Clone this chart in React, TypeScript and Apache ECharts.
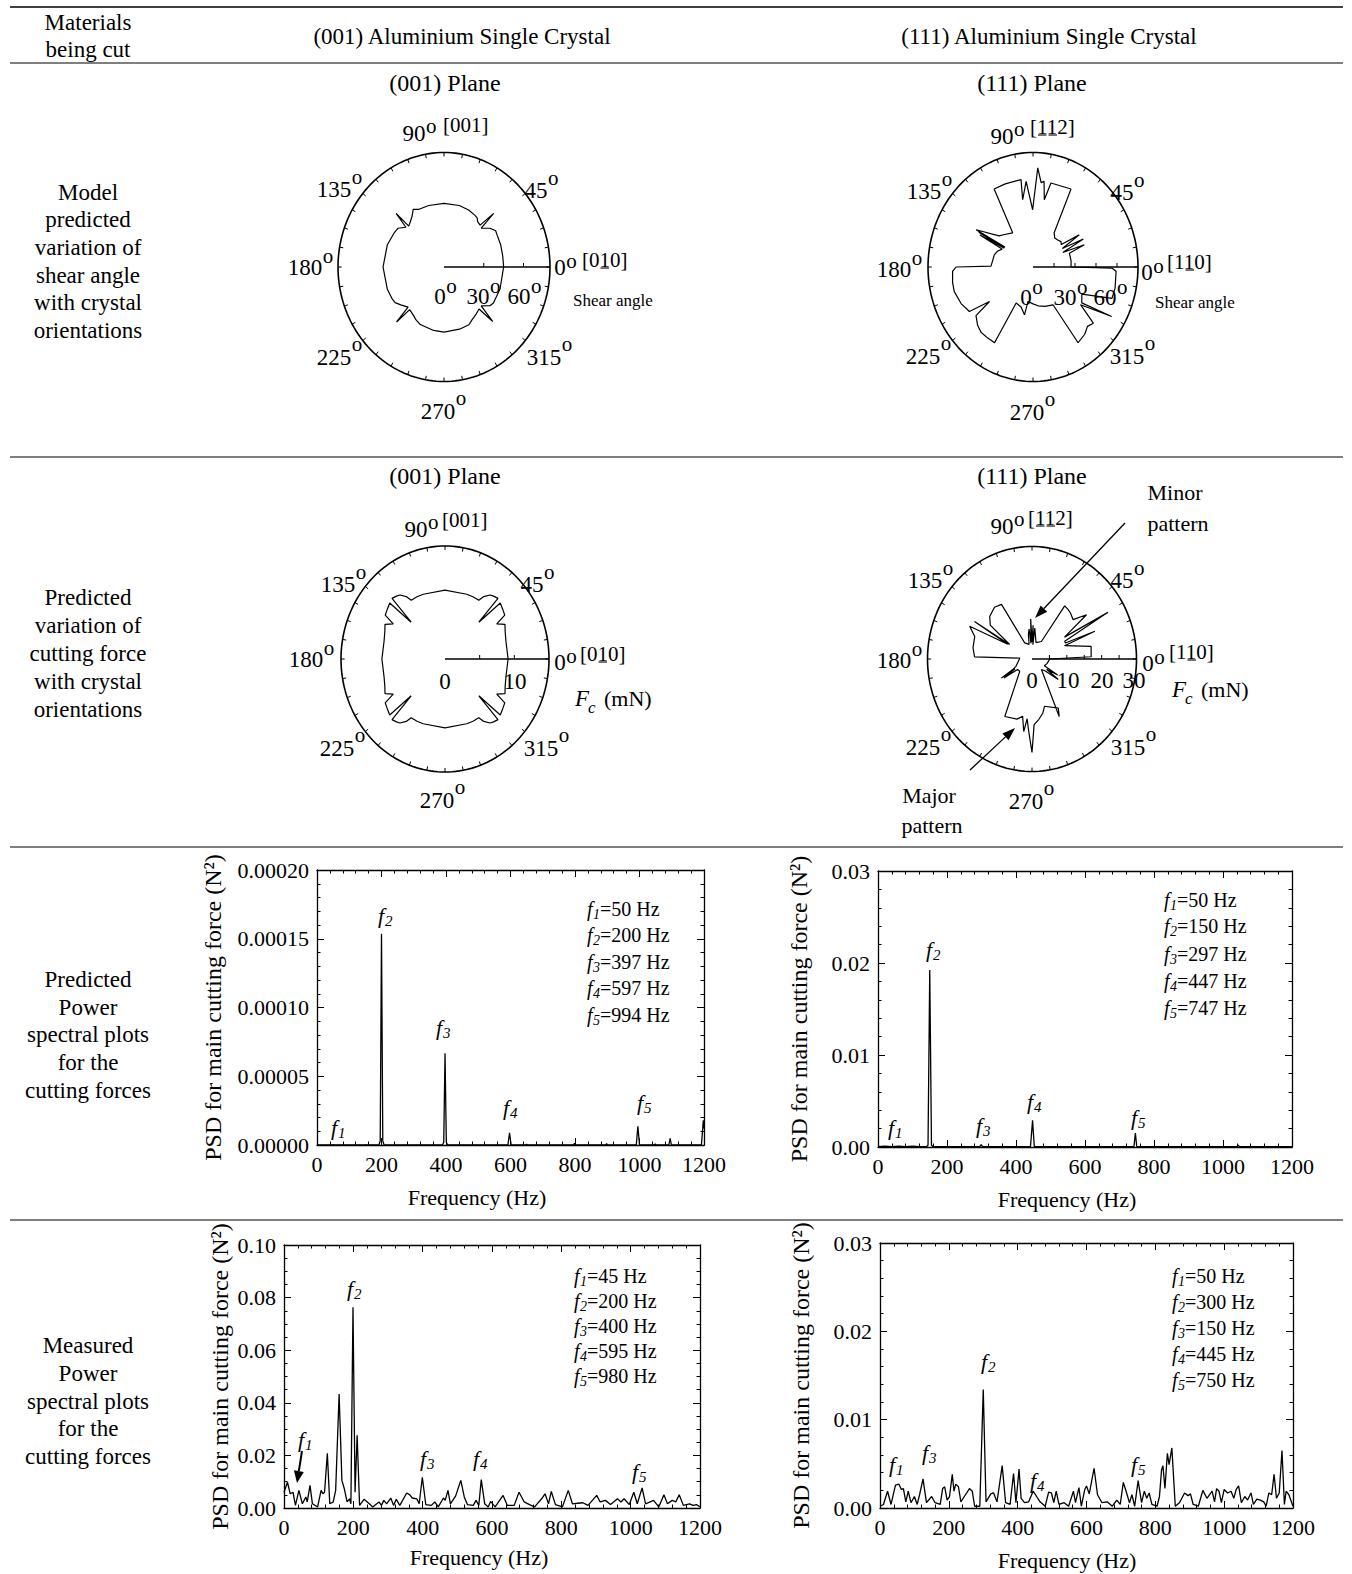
import React, { useEffect, useRef } from "react";
import * as echarts from "echarts";

const FONT = "'Liberation Serif','Times New Roman',Times,serif";

// ---------- Polar data: [angle (deg), radius] ----------
const shear001 = [
  [0, 45], [10, 45], [20, 45.5], [30, 46], [33, 46.5], [38, 44], [44, 39], [45, 53], [47, 40], [51, 40.5], [54, 42.5], [57, 43],
  [65, 44], [75, 44.5], [90, 44.5], [105, 44.5], [115, 44.5], [120, 46.5], [124, 43], [129, 40.5], [133, 39], [134, 52], [136, 40],
  [142, 44], [147, 44.5], [160, 45.5], [180, 46], [200, 45.5], [210, 45], [214, 44.5], [219, 42], [226, 39], [227, 52.5], [229, 39.5],
  [236, 41], [240, 42.5], [246, 44], [260, 45], [270, 45.5], [285, 45], [295, 44.5], [300, 42.5], [306, 41], [312, 39.5], [314, 53],
  [316, 39], [322, 44], [326, 45], [340, 45], [360, 45],
];

const shear111 = [
  [0, 32.6], [8, 33], [19, 33], [21.7, 47.3], [24, 28], [27, 48.4], [30, 29], [32.5, 47], [36, 30], [39.8, 31.2], [45, 30],
  [50.8, 29.5], [56, 32.3], [62, 69.4], [70, 68], [76.9, 67.8], [79.6, 53.8], [82, 68], [84, 66.7], [87, 78], [90.4, 45],
  [95, 67.6], [99.5, 53.6], [98.5, 69.5], [110, 69.5], [118.5, 69.8], [123, 32], [133.7, 35.3], [140, 38], [149, 56.9], [147, 28.7],
  [149.5, 54], [149, 28.7], [151, 52], [152, 30], [158, 33], [164, 34.5], [172, 35], [179, 36], [180, 66], [182.8, 69], [190, 70],
  [196, 70.2], [205, 68], [212.7, 64.8], [216, 46.1], [218, 62], [224, 66], [229, 67.9], [235, 68], [241, 68], [243, 31.8], [252, 33],
  [259, 38.3], [261, 27.4], [270, 29], [278, 30.8], [288, 32.6], [300, 34.3], [303, 71], [310, 69], [315, 66], [319.5, 68], [324, 50.4],
  [330, 77.9], [326, 50.4], [333, 47], [340, 72], [346.7, 72.3], [357.3, 71.3], [359.3, 67.5], [360, 32.6],
];

const force001 = [
  [0, 9.1], [15, 9.1], [22.6, 9.4], [28, 9.8], [32, 8.8], [34, 10.4], [38, 10.6], [43, 10.9], [45, 6.9], [46.5, 11.1], [50, 10.9],
  [52.6, 10.7], [56, 10], [58, 9.2], [64, 9.2], [70, 9.15], [90, 9.15], [110, 9.15], [116, 9.2], [122, 9.2], [124, 10], [127.4, 10.7],
  [130, 10.9], [133.5, 11.1], [135, 6.9], [137, 10.9], [142, 10.6], [146, 10.4], [148, 8.8], [152, 9.8], [157.4, 9.4], [165, 9.1],
  [180, 9.1], [195, 9.1], [202.6, 9.4], [208, 9.8], [212, 8.8], [214, 10.4], [218, 10.6], [223, 10.9], [225, 6.9], [226.5, 11.1],
  [230, 10.9], [232.6, 10.7], [236, 10], [238, 9.2], [244, 9.2], [250, 9.15], [270, 9.15], [290, 9.15], [296, 9.2], [302, 9.2],
  [304, 10], [307.4, 10.7], [310, 10.9], [313.5, 11.1], [315, 6.9], [317, 10.9], [322, 10.6], [326, 10.4], [328, 8.8], [332, 9.8],
  [337.4, 9.4], [345, 9.1], [360, 9.1],
];

const force111 = [
  [0, 5], [2, 17], [11.2, 17.3], [20.8, 10], [22.3, 19.5], [24, 10.5], [26.6, 10.5], [29.7, 25.1], [32, 11], [37, 19.6], [41.6, 15.8],
  [48, 16.5], [52, 16.8], [56.5, 17], [60, 5.4], [75, 4.5], [84.5, 8.3], [86, 3.8], [88, 9], [90, 4.5], [92, 10.7], [94, 4.2], [96, 8],
  [99, 6.6], [102, 4], [116, 4.8], [121, 17], [128, 17.5], [137, 16.6], [143, 15], [149, 7.5], [148.8, 19.3], [150.5, 8], [154, 19.9],
  [160, 17.5], [170, 17.2], [178, 16.5], [176, 3.5], [190, 4], [203, 5], [207, 6.2], [210, 10.2], [208, 5.5], [212, 9.5], [214, 5],
  [223, 4.8], [243, 17.2], [255, 16.6], [260, 15.5], [263, 19.5], [265, 16], [267, 19], [270, 24.9], [272, 17.5], [277, 16.2],
  [282, 14.8], [286, 13.1], [300, 15.1], [297, 17.2], [314, 3.9], [320, 5], [324, 9.3], [327, 5], [330, 8.5], [333, 4], [345, 4.5],
  [358, 5], [360, 5],
];

// ---------- PSD data: [frequency (Hz), PSD (N^2)] ----------
const psdPred001 = [
  [0, 0], [48, 0], [50, 0.0000004], [52, 0], [150, 0], [152, 0.0000003], [154, 0], [192, 0], [196, 0.000003], [200, 0.0001537],
  [204, 0.000003], [208, 0], [389, 0], [393, 0.000002], [397, 0.0000667], [401, 0.000002], [405, 0], [592, 0], [597, 0.0000088],
  [602, 0], [647, 0], [650, 0.0000006], [653, 0], [795, 0], [798, 0.0000012], [801, 0], [895, 0], [898, 0.0000009], [901, 0],
  [990, 0], [995, 0.0000136], [1000, 0], [1046, 0], [1049, 0.0000008], [1052, 0], [1091, 0], [1095, 0.0000049], [1099, 0],
  [1192, 0], [1196, 0.000012], [1198, 0.000018], [1200, 0.000012],
];

const psdPred111 = [
  [0, 0.00005], [20, 0.0001], [40, 0.00005], [60, 0.0001], [80, 0.00003], [100, 0.0001], [120, 0.00005], [140, 0.00003],
  [145, 0.0002], [150, 0.01923], [155, 0.0002], [160, 0.00003], [200, 0.00005], [250, 0.00003], [295, 0.00003], [299, 0.00025],
  [303, 0.00003], [350, 0.00005], [400, 0.00003], [442, 0.00005], [448, 0.00289], [453, 0.00005], [500, 0.00005], [600, 0.00003],
  [700, 0.00005], [742, 0.00005], [746, 0.00152], [750, 0.00005], [800, 0.00003], [900, 0.00005], [1000, 0.00003], [1040, 0.00003],
  [1044, 0.0002], [1048, 0.00003], [1200, 0.00003],
];

const psdMeas001 = [
  [0, 0.006], [10, 0.0098], [18, 0.0054], [26, 0.006], [33, 0.001], [43, 0.0067], [53, 0.0016], [63, 0.0042], [67, 0.0023],
  [75, 0.0086], [82, 0.0016], [97, 0.0004], [107, 0.0067], [112, 0.0054], [117, 0.006], [125, 0.0208], [132, 0.0016], [142, 0.0023],
  [149, 0.0067], [159, 0.0433], [167, 0.0105], [174, 0.0073], [182, 0.0023], [189, 0.0035], [193, 0.0016], [199, 0.0763], [205, 0.006],
  [211, 0.0277], [218, 0.001], [231, 0.0033], [246, 0.0016], [256, 0.0004], [274, 0.0023], [281, 0.001], [288, 0.0029], [296, 0.0016],
  [308, 0.0038], [316, 0.001], [324, 0.0033], [334, 0.001], [354, 0.0057], [363, 0.005], [370, 0.0038], [383, 0.0035], [390, 0.0016],
  [399, 0.0117], [409, 0.0013], [425, 0.001], [435, 0.0023], [445, 0.0004], [460, 0.0038], [465, 0.0029], [473, 0.0067], [480, 0.0016],
  [495, 0.0045], [510, 0.0105], [520, 0.0042], [529, 0.0013], [546, 0.001], [554, 0.0029], [562, 0.001], [569, 0.0108], [579, 0.0016],
  [589, 0.0004], [596, 0.0025], [609, 0.0004], [632, 0.0048], [644, 0.001], [664, 0.001], [678, 0.006], [693, 0.0023], [708, 0.0013],
  [723, 0.0004], [743, 0.0035], [753, 0.0054], [763, 0.0016], [771, 0.0063], [783, 0.0013], [803, 0.0004], [820, 0.0067], [832, 0.0016],
  [847, 0.0018], [862, 0.002], [877, 0.001], [902, 0.0048], [912, 0.0023], [927, 0.0029], [942, 0.0013], [962, 0.0035], [972, 0.0023],
  [981, 0.0035], [996, 0.0013], [1009, 0.006], [1019, 0.0016], [1033, 0.0076], [1043, 0.0016], [1066, 0.0029], [1081, 0.0004],
  [1096, 0.005], [1106, 0.0016], [1120, 0.0029], [1130, 0.0023], [1140, 0.005], [1152, 0.001], [1170, 0.0016], [1180, 0.001],
  [1190, 0.0013], [1200, 0.0004],
];

const psdMeas111 = [
  [0, 0.0002], [10, 0.0004], [22, 0.0019], [32, 0.0004], [45, 0.0026], [55, 0.0027], [62, 0.0021], [68, 0.0022], [75, 0.0007],
  [82, 0.0019], [90, 0.0006], [100, 0.0013], [108, 0.0004], [115, 0.0015], [125, 0.0033], [135, 0.0006], [150, 0.0013], [160, 0.0006],
  [175, 0.0004], [182, 0.0022], [188, 0.0024], [195, 0.0009], [202, 0.0013], [210, 0.0038], [215, 0.0019], [220, 0.0027], [228, 0.0024],
  [235, 0.0007], [245, 0.0013], [260, 0.0022], [268, 0.0019], [275, 0.0002], [290, 0.0002], [300, 0.0134], [308, 0.0007], [322, 0.0016],
  [330, 0.0017], [340, 0.0007], [355, 0.0048], [365, 0.0006], [378, 0.0004], [388, 0.0039], [395, 0.0006], [404, 0.0044], [410, 0.0011],
  [420, 0.0006], [432, 0.0007], [445, 0.0019], [455, 0.0013], [465, 0.0007], [480, 0.0002], [490, 0.0018], [498, 0.0017], [505, 0.0006],
  [512, 0.0019], [520, 0.0004], [535, 0.0006], [548, 0.0002], [562, 0.0019], [568, 0.0006], [578, 0.0023], [585, 0.0002], [595, 0.0021],
  [600, 0.0025], [608, 0.0016], [622, 0.0045], [632, 0.0015], [645, 0.0006], [660, 0.0007], [675, 0.0002], [688, 0.0009], [698, 0.0004],
  [707, 0.0029], [715, 0.0019], [725, 0.0006], [732, 0.0015], [740, 0.0002], [750, 0.0031], [760, 0.0006], [768, 0.0019], [775, 0.0011],
  [782, 0.0017], [790, 0.0004], [805, 0.0002], [812, 0.0013], [818, 0.0043], [822, 0.0048], [828, 0.0022], [835, 0.0062], [840, 0.0049],
  [848, 0.0068], [858, 0.0002], [870, 0.0006], [885, 0.0017], [895, 0.0014], [902, 0.0016], [910, 0.0004], [925, 0.0002], [938, 0.002],
  [950, 0.0011], [965, 0.0019], [972, 0.0007], [978, 0.0022], [985, 0.0019], [992, 0.0006], [1000, 0.0021], [1010, 0.0017], [1020, 0.0019],
  [1028, 0.0011], [1035, 0.0021], [1042, 0.0025], [1050, 0.0006], [1060, 0.0013], [1068, 0.0009], [1078, 0.0017], [1085, 0.0004],
  [1095, 0.001], [1105, 0.0009], [1115, 0.0007], [1122, 0.0002], [1130, 0.0017], [1138, 0.0015], [1145, 0.0038], [1152, 0.0011],
  [1160, 0.0017], [1168, 0.0065], [1175, 0.0004], [1180, 0.0019], [1188, 0.0015], [1200, 0.0002],
];

// ---------- Text content ----------
const headerLeft = ["Materials", "being cut"];
const headerCols = ["(001) Aluminium Single Crystal", "(111) Aluminium Single Crystal"];
const planeTitles = ["(001) Plane", "(111) Plane"];
const rowLabels = [
  ["Model", "predicted", "variation of", "shear angle", "with crystal", "orientations"],
  ["Predicted", "variation of", "cutting force", "with crystal", "orientations"],
  ["Predicted", "Power", "spectral plots", "for the", "cutting forces"],
  ["Measured", "Power", "spectral plots", "for the", "cutting forces"],
];
const legends = [
  [["1", "=50 Hz"], ["2", "=200 Hz"], ["3", "=397 Hz"], ["4", "=597 Hz"], ["5", "=994 Hz"]],
  [["1", "=50 Hz"], ["2", "=150 Hz"], ["3", "=297 Hz"], ["4", "=447 Hz"], ["5", "=747 Hz"]],
  [["1", "=45 Hz"], ["2", "=200 Hz"], ["3", "=400 Hz"], ["4", "=595 Hz"], ["5", "=980 Hz"]],
  [["1", "=50 Hz"], ["2", "=300 Hz"], ["3", "=150 Hz"], ["4", "=445 Hz"], ["5", "=750 Hz"]],
];

// ---------- layout ----------
const polarCfg: any[] = [
  {
    cx: 444, cy: 267, rx: 106, ry: 114.5, R: 80, ticks: [30, 60], data: shear001,
    ang: [["90", -30, -134, -7], ["135", -110, -78, -12], ["45", 92, -77, -12], ["180", -139, 0, -11], ["0", 116, 0, -6], ["225", -110, 90, -13], ["315", 100, 90, -13], ["270", -6, 144, -13]],
    top: ["[001]", -1, -142, []], right: ["[010]", 138, -7, [2]],
    rad: [["0", -4, 29], ["30", 34, 29], ["60", 75, 29]], radSup: true, unit: "shear", unitPos: [129, 33],
  },
  {
    cx: 1033, cy: 267, rx: 105, ry: 114.5, R: 90, ticks: [18, 36, 54, 72], data: shear111,
    ang: [["90", -31, -131, -7], ["135", -109, -76, -12], ["45", 89, -75, -12], ["180", -139, 2, -11], ["0", 114, 5, -6], ["225", -110, 89, -13], ["315", 94, 89, -13], ["270", -6, 145, -13]],
    top: ["[112]", -3, -140, [1, 2]], right: ["[110]", 134, -5, [2]],
    rad: [["0", -7, 30], ["30", 32, 30], ["60", 72, 30]], radSup: true, unit: "shear", unitPos: [122, 35],
  },
  {
    cx: 445, cy: 659, rx: 104, ry: 113, R: 15, ticks: [5, 10], data: force001,
    ang: [["90", -29, -130, -7], ["135", -107, -75, -12], ["45", 87, -75, -12], ["180", -139, 0, -11], ["0", 115, 3, -6], ["225", -108, 89, -13], ["315", 96, 89, -13], ["270", -8, 141, -13]],
    top: ["[001]", -3, -139, []], right: ["[010]", 135, -5, [2]],
    rad: [["0", 0, 22], ["10", 70, 22]], radSup: false, unit: "fc", unitPos: [130, 39],
  },
  {
    cx: 1032, cy: 659, rx: 104.5, ry: 112.5, R: 30, ticks: [5, 10, 15, 20, 25], data: force111,
    ang: [["90", -30, -133, -7], ["135", -107, -79, -12], ["45", 90, -79, -12], ["180", -138, 1, -11], ["0", 116, 4, -6], ["225", -109, 88, -13], ["315", 96, 88, -13], ["270", -6, 142, -13]],
    top: ["[112]", -4, -141, [1, 2]], right: ["[110]", 137, -7, [2]],
    rad: [["0", 0, 21], ["10", 36, 21], ["20", 70, 21], ["30", 102, 21]], radSup: false, unit: "fc", unitPos: [140, 30],
  },
];

const psdCfg: any[] = [
  { left: 317, top: 870, width: 387, height: 275, ymax: 0.0002, yint: 0.00005, dec: 5, yminor: 5, data: psdPred001, yGap: 92,
    xName: [477, 1197], legX: 587, legY: [909, 935, 962, 988, 1015], peaks: [["1", 337, 1127], ["2", 384, 915], ["3", 442, 1027], ["4", 509, 1107], ["5", 643, 1102]] },
  { left: 878, top: 871, width: 414, height: 276, ymax: 0.03, yint: 0.01, dec: 2, yminor: 5, data: psdPred111, yGap: 67,
    xName: [1067, 1199], legX: 1164, legY: [900, 926, 954, 981, 1008], peaks: [["1", 894, 1127], ["2", 932, 949], ["3", 982, 1125], ["4", 1033, 1101], ["5", 1137, 1117]] },
  { left: 284, top: 1245, width: 416, height: 263, ymax: 0.1, yint: 0.02, dec: 2, yminor: 4, data: psdMeas001, yGap: 52,
    xName: [479, 1557], legX: 574, legY: [1276, 1301, 1326, 1351, 1376], peaks: [["1", 304, 1439], ["2", 353, 1288], ["3", 426, 1458], ["4", 479, 1458], ["5", 638, 1471]] },
  { left: 880, top: 1243, width: 413, height: 265, ymax: 0.03, yint: 0.01, dec: 2, yminor: 5, data: psdMeas111, yGap: 67,
    xName: [1067, 1560], legX: 1172, legY: [1276, 1302, 1328, 1354, 1380], peaks: [["1", 895, 1464], ["3", 928, 1452], ["2", 987, 1361], ["4", 1036, 1480], ["5", 1137, 1464]] },
];

// ---------- helpers ----------
const T = (x: number, y: number, text: string, o: any = {}) => ({
  type: "text", x, y, silent: true, z: 10,
  style: {
    text, fill: "#000", fontFamily: FONT, fontSize: o.fs ?? 23, fontStyle: o.it ? "italic" : "normal",
    textAlign: o.al ?? "center", textVerticalAlign: "middle", align: o.al ?? "center", verticalAlign: "middle",
  },
});
const L = (x1: number, y1: number, x2: number, y2: number, w = 1.2) => ({
  type: "line", silent: true, z: 10, shape: { x1, y1, x2, y2 }, style: { stroke: "#000", lineWidth: w },
});
const arrow = (x1: number, y1: number, x2: number, y2: number, w = 1.3, hl = 13, hw = 4.5) => {
  const a = Math.atan2(y2 - y1, x2 - x1);
  const bx = x2 - hl * Math.cos(a), by = y2 - hl * Math.sin(a);
  const px = -Math.sin(a) * hw, py = Math.cos(a) * hw;
  return [
    L(x1, y1, bx, by, w),
    { type: "polygon", silent: true, z: 10, shape: { points: [[x2, y2], [bx + px, by + py], [bx - px, by - py]] }, style: { fill: "#000" } },
  ];
};
const toXY = (d: number[][]) => d.map(([a, r]) => {
  const t = (a * Math.PI) / 180;
  return [r * Math.cos(t), r * Math.sin(t)];
});
const frameRender = (R: number, ticks: number[]) => (_p: any, api: any) => {
  const ch: any[] = [];
  const pts: number[][] = [];
  for (let a = 0; a < 360; a += 2) {
    const t = (a * Math.PI) / 180;
    pts.push(api.coord([R * Math.cos(t), R * Math.sin(t)]));
  }
  ch.push({ type: "polygon", shape: { points: pts }, style: { fill: "none", stroke: "#000", lineWidth: 1.6 } });
  for (let a = 0; a < 360; a += 10) {
    const t = (a * Math.PI) / 180;
    const p1 = api.coord([R * Math.cos(t), R * Math.sin(t)]);
    const p2 = api.coord([0.965 * R * Math.cos(t), 0.965 * R * Math.sin(t)]);
    ch.push({ type: "line", shape: { x1: p1[0], y1: p1[1], x2: p2[0], y2: p2[1] }, style: { stroke: "#000", lineWidth: 1 } });
  }
  const o = api.coord([0, 0]);
  const e = api.coord([R, 0]);
  ch.push({ type: "line", shape: { x1: o[0], y1: o[1], x2: e[0], y2: e[1] }, style: { stroke: "#000", lineWidth: 1.7 } });
  ticks.forEach((v) => {
    const p = api.coord([v, 0]);
    ch.push({ type: "line", shape: { x1: p[0], y1: p[1], x2: p[0], y2: p[1] - 4 }, style: { stroke: "#000", lineWidth: 1 } });
  });
  return { type: "group", children: ch };
};

function buildOption() {
  const grid: any[] = [];
  const xAxis: any[] = [];
  const yAxis: any[] = [];
  const series: any[] = [];
  const g: any[] = [];

  // table rules
  [7, 63, 457, 847, 1220].forEach((y, i) => g.push(L(10, y, 1343, y, i === 0 ? 1.5 : 1.2)));
  g.push(T(88, 22, headerLeft[0]), T(88, 49, headerLeft[1]));
  g.push(T(462, 36, headerCols[0]), T(1049, 36, headerCols[1]));
  g.push(T(445, 83, planeTitles[0], { fs: 24 }), T(1032, 83, planeTitles[1], { fs: 24 }));
  g.push(T(445, 476, planeTitles[0], { fs: 24 }), T(1032, 476, planeTitles[1], { fs: 24 }));

  const rowY = [
    [192, 219, 247, 275, 302, 330],
    [597, 625, 653, 681, 709],
    [979, 1007, 1034, 1062, 1090],
    [1345, 1373, 1401, 1428, 1456],
  ];
  rowLabels.forEach((lines, r) => lines.forEach((s, k) => g.push(T(88, rowY[r][k], s))));

  // polar plots
  polarCfg.forEach((p, i) => {
    grid.push({ left: p.cx - p.rx, top: p.cy - p.ry, width: 2 * p.rx, height: 2 * p.ry });
    xAxis.push({ gridIndex: i, type: "value", min: -p.R, max: p.R, show: false });
    yAxis.push({ gridIndex: i, type: "value", min: -p.R, max: p.R, show: false });
    series.push({
      type: "custom", coordinateSystem: "cartesian2d", xAxisIndex: i, yAxisIndex: i, data: [[0, 0]],
      renderItem: frameRender(p.R, p.ticks), silent: true, clip: false, z: 2,
    });
    series.push({
      type: "line", xAxisIndex: i, yAxisIndex: i, data: toXY(p.data), showSymbol: false, symbol: "none",
      lineStyle: { color: "#000", width: 1.2 }, silent: true, z: 3, clip: false,
    });
    const { cx, cy } = p;
    p.ang.forEach(([n, dx, dy, so]: any) => {
      const w = n.length * 23 * 0.5;
      g.push(T(cx + dx, cy + dy, n), T(cx + dx + w / 2 + 0.5, cy + dy + so, "o", { fs: 21, al: "left" }));
    });
    [p.top, p.right].forEach(([s, dx, dy, ul]: any) => {
      const fs = 21;
      const x = cx + dx, y = cy + dy;
      g.push(T(x, y, s, { fs, al: "left" }));
      let pos = x;
      for (let k = 0; k < s.length; k++) {
        const cw = (s[k] === "[" || s[k] === "]" ? 0.333 : 0.5) * fs;
        if (ul.includes(k)) g.push(L(pos + 1, y + 8, pos + cw - 1, y + 8, 1.1));
        pos += cw;
      }
    });
    p.rad.forEach(([n, dx, dy]: any) => {
      g.push(T(cx + dx, cy + dy, n));
      if (p.radSup) g.push(T(cx + dx + (n.length * 23 * 0.5) / 2 + 0.5, cy + dy - 10, "o", { fs: 21, al: "left" }));
    });
    const [ux, uy] = p.unitPos;
    if (p.unit === "shear") {
      g.push(T(cx + ux, cy + uy, "Shear angle", { fs: 17, al: "left" }));
    } else {
      g.push(T(cx + ux, cy + uy, "F", { it: true, al: "left" }));
      g.push(T(cx + ux + 13, cy + uy + 9, "c", { it: true, fs: 17, al: "left" }));
      g.push(T(cx + ux + 29, cy + uy, "(mN)", { fs: 22, al: "left" }));
    }
  });

  // arrows / notes on (111) force plot
  g.push(...arrow(1125, 523, 1035, 618));
  g.push(T(1175, 492, "Minor", { fs: 22 }), T(1178, 523, "pattern", { fs: 22 }));
  g.push(...arrow(970, 770, 1015, 728));
  g.push(T(929, 795, "Major", { fs: 22 }), T(932, 825, "pattern", { fs: 22 }));

  // PSD plots
  const axTxt = { fontSize: 22, fontFamily: FONT, color: "#000" };
  psdCfg.forEach((p, i) => {
    const gi = 4 + i;
    grid.push({ left: p.left, top: p.top, width: p.width, height: p.height });
    const xBase = {
      gridIndex: gi, type: "value", min: 0, max: 1200, interval: 200,
      axisLine: { show: true, onZero: false, lineStyle: { color: "#000", width: 1.3 } },
      axisTick: { show: true, inside: true, length: 7, lineStyle: { color: "#000", width: 1 } },
      minorTick: { show: true, splitNumber: 5, length: 3.5, lineStyle: { color: "#000", width: 1 } },
      splitLine: { show: false },
    };
    xAxis.push({
      ...xBase, position: "bottom",
      axisLabel: { ...axTxt, margin: 8, showMaxLabel: true, showMinLabel: true, formatter: (v: number) => String(v) },
    });
    xAxis.push({ ...xBase, position: "top", axisLabel: { show: false } });
    g.push(T(p.xName[0], p.xName[1], "Frequency (Hz)", { fs: 22 }));
    const yBase = {
      gridIndex: gi, type: "value", min: 0, max: p.ymax, interval: p.yint,
      axisLine: { show: true, onZero: false, lineStyle: { color: "#000", width: 1.3 } },
      axisTick: { show: true, inside: true, length: 7, lineStyle: { color: "#000", width: 1 } },
      minorTick: { show: true, splitNumber: p.yminor, length: 3.5, lineStyle: { color: "#000", width: 1 } },
      splitLine: { show: false },
    };
    yAxis.push({
      ...yBase, position: "left",
      axisLabel: { ...axTxt, margin: 8, formatter: (v: number) => v.toFixed(p.dec), showMaxLabel: true },
      name: "PSD for main cutting force (N²)", nameLocation: "middle", nameGap: p.yGap, nameRotate: 90,
      nameTextStyle: { ...axTxt, fontSize: 24 },
    });
    yAxis.push({ ...yBase, position: "right", axisLabel: { show: false } });
    const xi = 4 + 2 * i;
    series.push({
      type: "line", xAxisIndex: xi, yAxisIndex: xi, data: p.data, showSymbol: false, symbol: "none",
      lineStyle: { color: "#000", width: 1.3 }, silent: true, z: 3,
    });
    // legend text
    legends[i].forEach(([d, rest]: any, k: number) => {
      const y = p.legY[k];
      g.push(T(p.legX, y, "f", { fs: 20, it: true, al: "left" }));
      g.push(T(p.legX + 6, y + 5, d, { fs: 14, it: true, al: "left" }));
      g.push(T(p.legX + 13, y, rest, { fs: 20, al: "left" }));
    });
    p.peaks.forEach(([d, x, y]: any) => {
      g.push(T(x - 3, y, "f", { fs: 22, it: true }));
      g.push(T(x + 1, y + 6, d, { fs: 15, it: true, al: "left" }));
    });
  });
  // arrow for f1 in measured (001)
  g.push(...arrow(302, 1451, 297, 1483, 2, 12, 5));

  return {
    animation: false,
    backgroundColor: "#fff",
    grid, xAxis, yAxis, series,
    graphic: { elements: g },
  };
}

export default function App() {
  const ref = useRef<HTMLDivElement>(null);
  useEffect(() => {
    const chart = echarts.init(ref.current!, null, { renderer: "svg" });
    chart.setOption(buildOption() as any);
    return () => chart.dispose();
  }, []);
  return (
    <div
      ref={ref}
      style={{ position: "absolute", left: 0, top: 0, width: 1352, height: 1574, background: "#fff" }}
    />
  );
}
